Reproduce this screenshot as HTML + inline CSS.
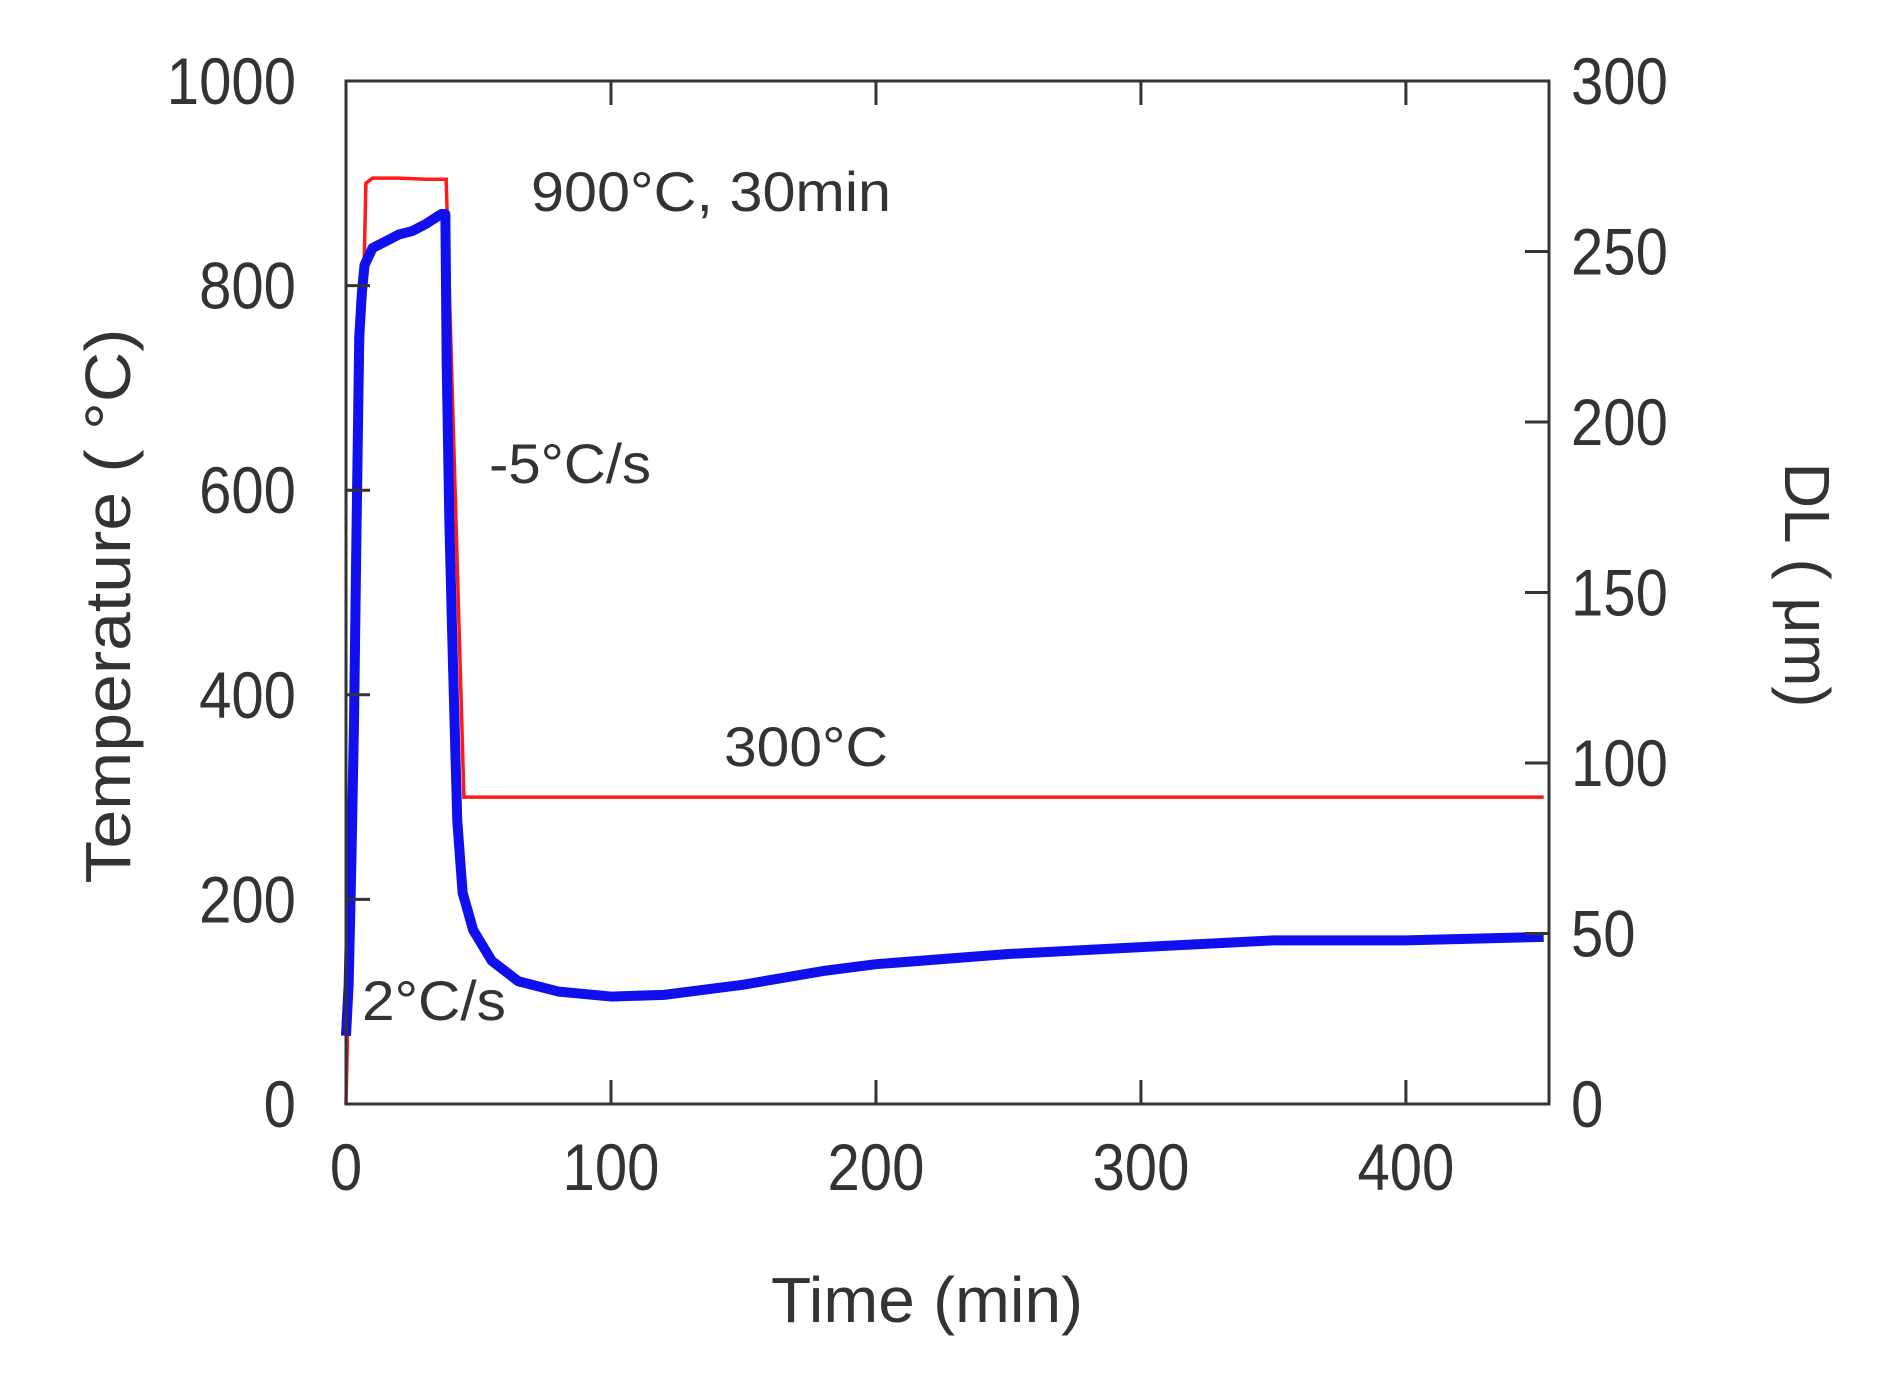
<!DOCTYPE html>
<html><head><meta charset="utf-8"><style>
html,body{margin:0;padding:0;background:#fff}
svg text{font-family:"Liberation Sans",Arial,sans-serif;fill:#333}
</style></head><body>
<svg id="chart" width="1883" height="1377" viewBox="0 0 1883 1377" xmlns="http://www.w3.org/2000/svg" style="position:absolute;left:0;top:0">
<g id="marks"></g>
<g id="axes"></g>
</svg>
<script>
const xTicks=[0,100,200,300,400];
const yTicks=[0,200,400,600,800,1000];
const y2Ticks=[0,50,100,150,200,250,300];
const tempTime=[0,7.5,10,20,30,37.8,44.5,60,100,200,300,400,452];
const tempVals=[0,900,905,905,904,904,300,300,300,300,300,300,300];
const dlTime=[0,1,2,3,4,5,6,7,10,15,20,25,30,36,37.5,38,39,40,41,42,44,48,55,65,80,100,120,150,180,200,250,300,350,400,452];
const dlVals=[20,35,70,111,170,225,238,246,251,253,255,256,258,261,261,217,171,140,111,83,62,51,42,36,33,31.5,32,35,39,41,44,46,48,48,49];
const L=346,R=1549,T=81,B=1104;
const xS=v=>L+v*(1203/454);
const yS=v=>B-v*(B-T)/1000;
const y2S=v=>B-v*(B-T)/300;
const NS='http://www.w3.org/2000/svg';
function mk(tag,attrs,parent,text){const e=document.createElementNS(NS,tag);for(const k in attrs)e.setAttribute(k,attrs[k]);if(text!==undefined)e.textContent=text;parent.appendChild(e);return e;}
const marks=document.getElementById('marks'),axes=document.getElementById('axes');
let p1=mk('polyline',{points:tempTime.map((t,i)=>xS(t)+','+yS(tempVals[i])).join(' '),fill:'none',stroke:'#ff1a1a','stroke-width':3.5},marks);


let p2=mk('polyline',{points:dlTime.map((t,i)=>xS(t)+','+y2S(dlVals[i])).join(' '),fill:'none',stroke:'#1010ee','stroke-width':10,'stroke-linejoin':'round'},marks);


let fr=mk('rect',{x:L,y:T,width:R-L,height:B-T,fill:'none',stroke:'#333','stroke-width':3},axes);


xTicks.forEach(v=>{const x=xS(v);
mk('line',{x1:x,x2:x,y1:B,y2:B-24,stroke:'#333','stroke-width':3},axes);
mk('line',{x1:x,x2:x,y1:T,y2:T+24,stroke:'#333','stroke-width':3},axes);
const t=mk('text',{x:x,y:B+86,'font-size':66,'text-anchor':'middle',transform:`translate(${x},0) scale(0.88,1) translate(${-x},0)`},axes,v);

});
yTicks.forEach(v=>{const y=yS(v);
mk('line',{x1:L,x2:L+24,y1:y,y2:y,stroke:'#333','stroke-width':3},axes);
const x=L-50;
const t=mk('text',{x:x,y:y+23,'font-size':66,'text-anchor':'end',transform:`translate(${x},0) scale(0.88,1) translate(${-x},0)`},axes,v);

});
y2Ticks.forEach(v=>{const y=y2S(v);
mk('line',{x1:R,x2:R-24,y1:y,y2:y,stroke:'#333','stroke-width':3},axes);
const x=R+22;
const t=mk('text',{x:x,y:y+23,'font-size':66,transform:`translate(${x},0) scale(0.88,1) translate(${-x},0)`},axes,v);

});
</script>
<svg style="position:absolute;left:0;top:0" width="1883" height="1377" xmlns="http://www.w3.org/2000/svg">
<text x="531" y="211" font-size="56" textLength="360" lengthAdjust="spacingAndGlyphs">900°C, 30min</text>
<text x="489" y="483" font-size="56" textLength="162" lengthAdjust="spacingAndGlyphs">-5°C/s</text>
<text x="724" y="766" font-size="56" textLength="164" lengthAdjust="spacingAndGlyphs">300°C</text>
<text x="362" y="1020" font-size="56" textLength="144" lengthAdjust="spacingAndGlyphs">2°C/s</text>
<text x="927" y="1322" font-size="64" text-anchor="middle" textLength="312" lengthAdjust="spacingAndGlyphs">Time (min)</text>
<text transform="translate(130,606) rotate(-90)" font-size="64" text-anchor="middle" textLength="555" lengthAdjust="spacingAndGlyphs">Temperature (  °C)</text>
<text transform="translate(1785,585) rotate(90)" font-size="64" text-anchor="middle" textLength="245" lengthAdjust="spacingAndGlyphs">DL ( μm)</text>
</svg>
</body></html>
